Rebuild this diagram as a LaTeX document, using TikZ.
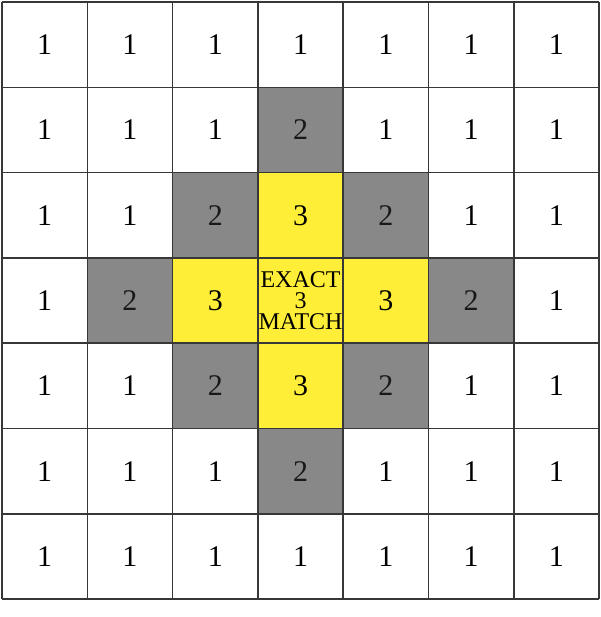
\documentclass[tikz,border=0pt]{standalone}
\usepackage{fontspec}
\setmainfont{Liberation Serif}
\definecolor{cellgray}{RGB}{136,136,136}
\definecolor{cellyellow}{RGB}{255,238,56}
\definecolor{gridline}{RGB}{55,55,55}
\begin{document}
\begin{tikzpicture}[x=0.75pt,y=-0.75pt,
  cellbox/.style={minimum width=64pt,minimum height=64pt,inner sep=0pt,outer sep=0pt,text=black,font=\fontsize{22.5}{24}\selectfont},
  farcell/.style={cellbox,fill=white},
  midcell/.style={cellbox,fill=cellgray,text=black!90},
  nearcell/.style={cellbox,fill=cellyellow},
  centercell/.style={cellbox,fill=cellyellow,align=center,font=\fontsize{18}{15.5}\selectfont},
  gridstroke/.style={draw=gridline,line width=1.1pt}]
\useasboundingbox (0,0) rectangle (600,617);
\fill[white] (0,0) rectangle (600,617);
\foreach \r in {0,...,6}{
  \foreach \c in {0,...,6}{
    \pgfmathtruncatemacro{\d}{abs(\r-3)+abs(\c-3)}
    \pgfmathsetmacro{\cx}{2+85.3*(\c+0.5)}
    \pgfmathsetmacro{\cy}{2+85.3*(\r+0.5)}
    \ifnum\d=0
      \node[centercell] (cell-\r-\c) at (\cx,\cy) {EXACT\\3\\MATCH};
    \else\ifnum\d=1
      \node[nearcell] (cell-\r-\c) at (\cx,\cy) {3};
    \else\ifnum\d=2
      \node[midcell] (cell-\r-\c) at (\cx,\cy) {2};
    \else
      \node[farcell] (cell-\r-\c) at (\cx,\cy) {1};
    \fi\fi\fi
  }
}
\foreach \k in {0,...,7}{
  \pgfmathsetmacro{\p}{2+85.3*\k}
  \draw[gridstroke] (\p,2) -- (\p,599.1);
  \draw[gridstroke] (2,\p) -- (599.1,\p);
}
\end{tikzpicture}
\end{document}
